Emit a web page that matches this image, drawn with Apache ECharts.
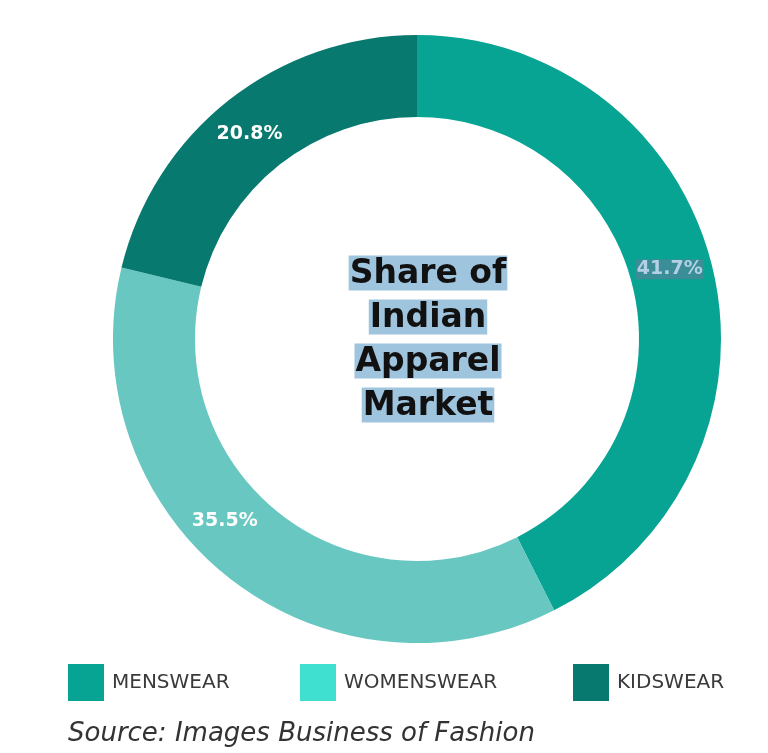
<!DOCTYPE html>
<html>
<head>
<meta charset="utf-8">
<script src="https://cdn.jsdelivr.net/npm/echarts@6/dist/echarts.min.js"></script>
<style>
  html, body { margin: 0; padding: 0; background: #ffffff; }
  #chart { width: 768px; height: 753px; }
</style>
</head>
<body>
<div id="chart"></div>
<script>
// Segments of the apparel market, clockwise from twelve o'clock
const categories = ['MENSWEAR', 'WOMENSWEAR', 'KIDSWEAR'];
const shares = [41.7, 35.5, 20.8];
const ringColors = ['#07a393', '#68c7c1', '#08796e'];
const legendColors = ['#07a393', '#40e0d0', '#08796e'];
const centerLines = ['Share of', 'Indian', 'Apparel', 'Market'];
const sourceNote = 'Source: Images Business of Fashion';

// Small nudges so each percentage sits where it reads best in its band
const labelNudge = [[-6, -8], [-27, -26], [-3, 4]];
const legendLeft = [68, 300, 573];

const chart = echarts.init(document.getElementById('chart'), null, { renderer: 'canvas' });

const pieData = categories.map((name, i) => ({
  name,
  value: shares[i],
  itemStyle: { color: ringColors[i] },
  label: i === 0
    ? { offset: labelNudge[i], color: '#b3d1e4', backgroundColor: '#3b8e98', padding: [1, 1, 0, 1] }
    : { offset: labelNudge[i] }
}));

const legends = categories.map((name, i) => ({
  show: true,
  left: legendLeft[i],
  top: 664,
  padding: 0,
  orient: 'horizontal',
  itemWidth: 36,
  itemHeight: 37,
  selectedMode: false,
  icon: 'rect',
  data: [{ name, itemStyle: { color: legendColors[i] } }],
  textStyle: {
    fontFamily: 'DejaVu Sans',
    fontSize: 20,
    color: '#3a3a3a',
    padding: [0, 0, 0, 3]
  }
}));

chart.setOption({
  animation: false,
  backgroundColor: '#ffffff',
  title: [
    {
      text: centerLines.map(l => '{hl|' + l + '}').join('\n'),
      left: 428,
      top: 339,
      padding: 0,
      textAlign: 'center',
      textVerticalAlign: 'middle',
      textStyle: {
        rich: {
          hl: {
            fontFamily: 'DejaVu Sans',
            fontWeight: 'bold',
            fontSize: 33,
            color: '#111111',
            backgroundColor: '#9fc4de',
            lineHeight: 44,
            padding: [2, 1, 0, 1]
          }
        }
      }
    },
    {
      text: sourceNote,
      left: 68,
      top: 721,
      padding: 0,
      textStyle: {
        fontFamily: 'DejaVu Sans',
        fontStyle: 'italic',
        fontWeight: 'normal',
        fontSize: 26,
        color: '#333333'
      }
    }
  ],
  legend: legends,
  series: [
    {
      type: 'pie',
      center: [417, 339],
      radius: [222, 304],
      startAngle: 90,
      clockwise: true,
      avoidLabelOverlap: false,
      silent: true,
      label: {
        show: true,
        position: 'inside',
        formatter: '{c}%',
        fontFamily: 'DejaVu Sans',
        fontWeight: 'bold',
        fontSize: 19,
        color: '#ffffff'
      },
      labelLine: { show: false },
      itemStyle: { borderWidth: 0 },
      data: pieData
    }
  ]
});
</script>
</body>
</html>
